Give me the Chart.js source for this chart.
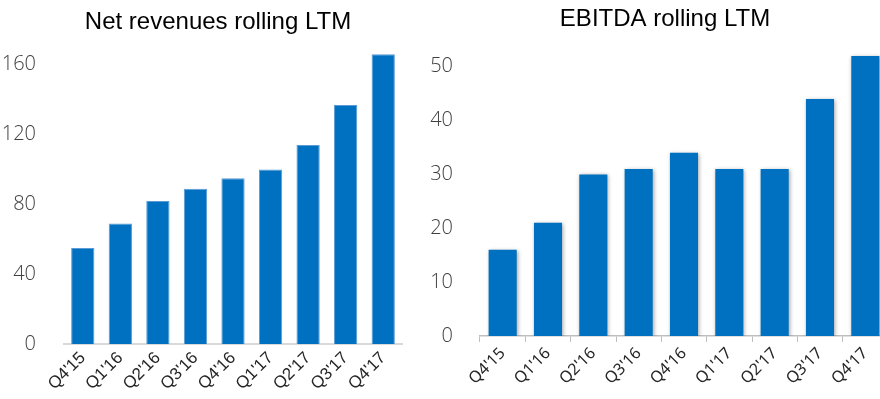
<!DOCTYPE html>
<html>
<head>
<meta charset="utf-8">
<script src="https://cdn.jsdelivr.net/npm/chart.js@4/dist/chart.umd.min.js"></script>
<style>
	html, body { margin: 0; padding: 0; background: #fff; }
	body { width: 880px; height: 399px; overflow: hidden; position: relative; }
	#wrapLeft { position: absolute; left: 0; top: 0; width: 440px; height: 399px; }
	#wrapRight { position: absolute; left: 420px; top: 0; width: 460px; height: 399px; overflow: hidden; }
</style>
</head>
<body>
<div id="wrapLeft"><canvas id="revChart" width="440" height="399"></canvas></div>
<div id="wrapRight"><canvas id="ebitdaChart" width="490" height="399"></canvas></div>
<script>
var quarters = ["Q4'15", "Q1'16", "Q2'16", "Q3'16", "Q4'16", "Q1'17", "Q2'17", "Q3'17", "Q4'17"];
var netRevenues = [55, 69, 82, 89, 95, 100, 114, 137, 166];
var ebitda = [16, 21, 30, 31, 34, 31, 31, 44, 52];
var revTicks = [0, 40, 80, 120, 160];
var ebitdaTicks = [0, 10, 20, 30, 40, 50];

var barBlue = '#0070c0';

// soft drop shadow under the EBITDA bars
var barShadow = {
	id: 'barShadow',
	beforeDatasetsDraw: function(chart) {
		var ctx = chart.ctx;
		ctx.save();
		ctx.shadowColor = 'rgba(0,0,0,0.35)';
		ctx.shadowBlur = 4;
		ctx.shadowOffsetX = 1;
		ctx.shadowOffsetY = 1;
	},
	afterDatasetsDraw: function(chart) {
		chart.ctx.restore();
	}
};

// slide the title sideways so it sits over the whole panel, not just the plot
var titleNudge = {
	id: 'titleNudge',
	afterLayout: function(chart, args, opts) {
		var t = chart.titleBlock;
		if (t && opts.dx) {
			t.left += opts.dx;
			t.right += opts.dx;
		}
	}
};

function makeOptions(cfg) {
	return {
		responsive: false,
		animation: false,
		layout: { padding: { left: 0, right: cfg.padRight, top: 0, bottom: 0 } },
		plugins: {
			legend: { display: false },
			tooltip: { enabled: false },
			titleNudge: { dx: cfg.titleShift },
			title: {
				display: true,
				text: cfg.title,
				color: '#000',
				font: { family: 'Liberation Sans, Arial, sans-serif', size: 24, weight: 'normal' },
				padding: { top: cfg.titleTop, bottom: cfg.titleBottom }
			}
		},
		scales: {
			x: {
				grid: {
					display: cfg.xTicks,
					drawOnChartArea: false,
					drawTicks: cfg.xTicks,
					tickLength: 6,
					color: '#bfbfbf'
				},
				border: { display: true, color: cfg.axisColor, width: cfg.axisWidth },
				ticks: {
					autoSkip: false,
					minRotation: 45,
					maxRotation: 45,
					padding: cfg.xPad,
					color: '#262626',
					font: { family: cfg.xFont, size: cfg.xSize }
				},
				afterFit: function(scale) { scale.height = cfg.xHeight; }
			},
			y: {
				min: 0,
				max: cfg.yMax,
				grid: { display: false },
				border: { display: false },
				ticks: {
					padding: cfg.yPad,
					color: '#404040',
					font: { family: 'Open Sans, sans-serif', size: 20, weight: 300 }
				},
				afterBuildTicks: function(scale) {
					scale.ticks = cfg.yTicks.map(function(v) { return { value: v }; });
				},
				afterFit: function(scale) { scale.width = cfg.yWidth; }
			}
		}
	};
}

new Chart(document.getElementById('revChart'), {
	type: 'bar',
	data: {
		labels: quarters,
		datasets: [{
			data: netRevenues,
			backgroundColor: barBlue,
			borderColor: '#5b9bd5',
			borderWidth: 1,
			barPercentage: 0.62,
			categoryPercentage: 1
		}]
	},
	options: makeOptions({
		title: 'Net revenues rolling LTM',
		titleShift: 17,
		padRight: 38,
		titleTop: 7.5,
		titleBottom: 11,
		yMax: 170,
		yTicks: revTicks,
		yWidth: 64,
		yPad: 20,
		xHeight: 55,
		xPad: 4,
		xSize: 17,
		xTicks: false,
		xFont: 'Liberation Sans, Arial, sans-serif',
		axisColor: '#d9d9d9',
		axisWidth: 2
	}),
	plugins: [titleNudge]
});

new Chart(document.getElementById('ebitdaChart'), {
	type: 'bar',
	data: {
		labels: quarters,
		datasets: [{
			data: ebitda,
			backgroundColor: barBlue,
			borderWidth: 0,
			barPercentage: 0.62,
			categoryPercentage: 1
		}]
	},
	options: makeOptions({
		title: 'EBITDA rolling LTM',
		titleShift: 11,
		padRight: 22,
		titleTop: 5,
		titleBottom: 14,
		yMax: 53.5,
		yTicks: ebitdaTicks,
		yWidth: 60,
		yPad: 19,
		xHeight: 63,
		xPad: 2,
		xSize: 16,
		xTicks: true,
		xFont: 'Noto Sans, sans-serif',
		axisColor: '#bfbfbf',
		axisWidth: 1.5
	}),
	plugins: [barShadow, titleNudge]
});
</script>
</body>
</html>
